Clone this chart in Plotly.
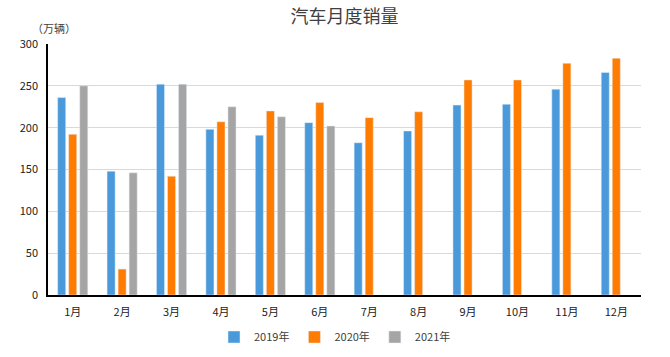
import plotly.graph_objects as go

months = ["1月", "2月", "3月", "4月", "5月", "6月", "7月", "8月", "9月", "10月", "11月", "12月"]
sales_2019 = [236, 148, 252, 198, 191, 206, 182, 196, 227, 228, 246, 266]
sales_2020 = [192, 31, 142, 207, 220, 230, 212, 219, 257, 257, 277, 283]
sales_2021 = [250, 146, 252, 225, 213, 202, None, None, None, None, None, None]
y_ticks = [0, 50, 100, 150, 200, 250, 300]

FONT = "Noto Sans CJK SC, Microsoft YaHei, sans-serif"

fig = go.Figure()
fig.add_bar(x=months, y=sales_2019, name="2019年", marker_color="#4A9ADB")
fig.add_bar(x=months, y=sales_2020, name="2020年", marker_color="#FF7C00")
fig.add_bar(x=months, y=sales_2021, name="2021年", marker_color="#A5A5A5")

fig.update_layout(
    width=670, height=357,
    margin=dict(l=48, r=29, t=44, b=62, autoexpand=False),
    paper_bgcolor="white", plot_bgcolor="white",
    barmode="group", bargap=0.33, bargroupgap=0.27,
    font=dict(family=FONT, size=11, color="#222222"),
    title=dict(text="汽车月度销量", x=0.5, xanchor="center", xref="paper",
               y=1 - 17 / 357, yanchor="middle", yref="container",
               font=dict(family=FONT, size=18, color="#404040")),
    showlegend=True,
    legend=dict(orientation="h", x=0.5, xanchor="center", xref="container",
                y=1 - 337 / 357, yanchor="middle", yref="container",
                font=dict(family=FONT, size=11, color="#404040"),
                itemwidth=30, traceorder="normal"),
    xaxis=dict(showline=True, linecolor="black", linewidth=1.5, ticks="", showgrid=False,
               automargin=False, ticklabelstandoff=6,
               tickfont=dict(family=FONT, size=11, color="#222222")),
    yaxis=dict(range=[0, 300], tickvals=y_ticks, showline=True, linecolor="black", linewidth=1.5,
               showgrid=True, gridcolor="#D9D9D9", gridwidth=1, zeroline=False, ticks="",
               automargin=False, ticklabelstandoff=6,
               tickfont=dict(family=FONT, size=11, color="#222222")),
    annotations=[dict(text="（万辆）", xref="paper", yref="paper", x=-0.03, y=1.065,
                      xanchor="left", yanchor="middle", showarrow=False,
                      font=dict(family=FONT, size=11, color="#404040"))],
)

fig.write_html("out.html", config={"displayModeBar": False},
               post_script="document.body.style.margin='0';")
